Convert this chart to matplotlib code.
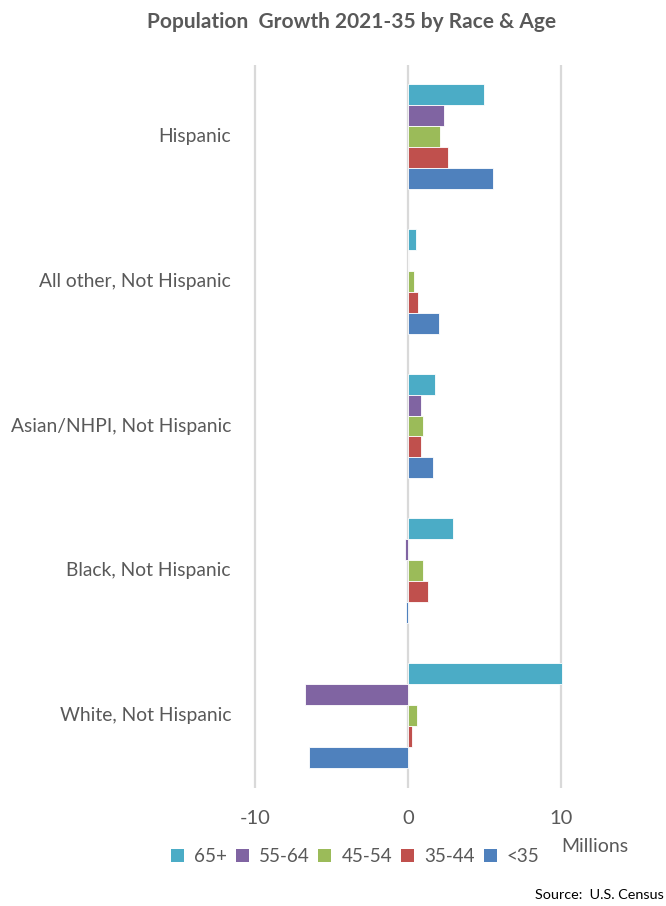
import matplotlib.pyplot as plt
import matplotlib.transforms as mtransforms
import numpy as np
from matplotlib.patches import Patch

plt.rcParams['font.family'] = ['Lato', 'DejaVu Sans']

groups = ["Hispanic", "All other, Not Hispanic", "Asian/NHPI, Not Hispanic",
          "Black, Not Hispanic", "White, Not Hispanic"]
age_bands = ["65+", "55-64", "45-54", "35-44", "<35"]
colors = ["#4BACC6", "#8064A2", "#9BBB59", "#C0504D", "#4F81BD"]

# Population change 2021-35, millions (one list per age band, ordered as groups)
growth_65_plus = [5.0, 0.5, 1.76, 2.92, 10.05]
growth_55_64 = [2.33, 0.0, 0.85, -0.17, -6.73]
growth_45_54 = [2.1, 0.37, 0.98, 0.98, 0.61]
growth_35_44 = [2.6, 0.63, 0.85, 1.33, 0.28]
growth_under_35 = [5.55, 2.0, 1.66, -0.15, -6.5]
series = [growth_65_plus, growth_55_64, growth_45_54, growth_35_44, growth_under_35]

W, H = 666, 906
fig = plt.figure(figsize=(W / 100, H / 100), dpi=100)

x_lo, x_hi = -11.0, 13.5
px_per_unit = 15.3
left_px = 408 - (0 - x_lo) * px_per_unit
right_px = 408 + x_hi * px_per_unit
top_px, bottom_px = 64.5, 787.5
ax = fig.add_axes([left_px / W, 1 - bottom_px / H,
                   (right_px - left_px) / W, (bottom_px - top_px) / H])

n_groups = len(groups)
centers = np.arange(n_groups)[::-1]  # Hispanic on top
bar_h = 0.145
for i, (vals, col) in enumerate(zip(series, colors)):
    offset = (2 - i) * bar_h
    ax.barh(centers + offset, vals, height=bar_h, color=col,
            edgecolor="white", linewidth=0.6, zorder=3)

ax.set_xlim(x_lo, x_hi)
ax.set_ylim(-0.5, n_groups - 0.5)
ax.set_xticks([-10, 0, 10])
ax.set_xticklabels(["-10", "0", "10"])
ax.xaxis.grid(True, color="#D9D9D9", linewidth=1.6, zorder=0)
ax.tick_params(axis="x", length=0, pad=16, labelsize=14.5, labelcolor="#595959")
ax.set_yticks([])
for s in ax.spines.values():
    s.set_visible(False)

# category labels, right aligned left of the zero line
label_tf = mtransforms.blended_transform_factory(fig.transFigure, ax.transData)
for c, name in zip(centers, groups):
    ax.text(231 / W, c, name, transform=label_tf, ha="right",
            va="center", fontsize=13.9, color="#595959")

fig.text(352 / W, 1 - 22 / H, "Population  Growth 2021-35 by Race & Age",
         ha="center", va="center", fontsize=15, fontweight="bold", color="#595959")

fig.text(595 / W, 1 - 846 / H, "Millions", ha="center", va="center",
         fontsize=14, color="#595959")

fs_leg = 13.6
px_fs = fs_leg * 100 / 72
handles = [Patch(facecolor=c, edgecolor="none") for c in colors]
fig.legend(handles, age_bands, loc="center", bbox_to_anchor=(355 / W, 1 - 857 / H),
           ncol=5, frameon=False, fontsize=fs_leg, labelcolor="#595959",
           handlelength=13 / px_fs, handleheight=13 / px_fs,
           handletextpad=10 / px_fs, columnspacing=9 / px_fs,
           borderpad=0, borderaxespad=0)

fig.text(664 / W, 1 - 895 / H, "Source:  U.S. Census", ha="right", va="center",
         fontsize=10.4, color="#000000")

fig.savefig("out.png", dpi=100)
